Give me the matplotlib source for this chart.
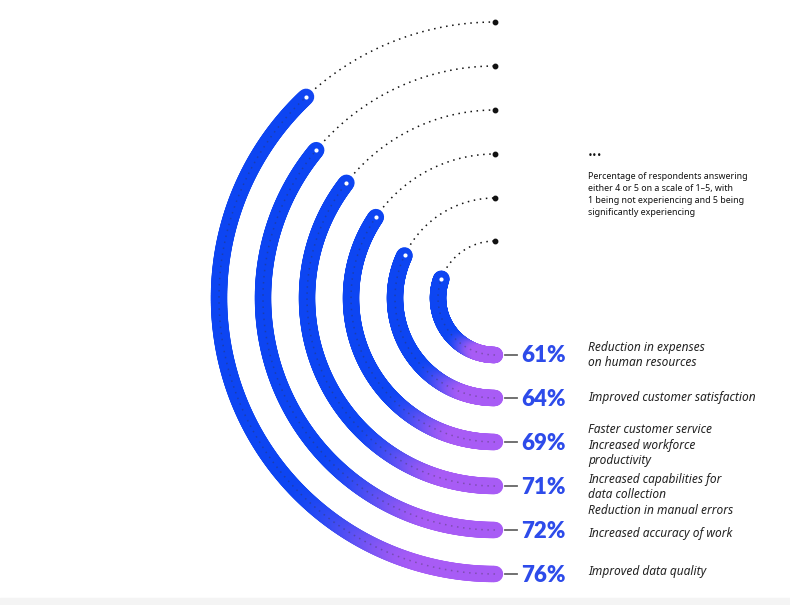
import numpy as np
import matplotlib.pyplot as plt
from matplotlib.collections import LineCollection

# datos
percentages = [61, 64, 69, 71, 72, 76]
pct_labels = ["61%", "64%", "69%", "71%", "72%", "76%"]
descriptions = [
    "Reduction in expenses\non human resources",
    "Improved customer satisfaction",
    "Faster customer service\nIncreased workforce\nproductivity",
    "Increased capabilities for\ndata collection\nReduction in manual errors",
    "Increased accuracy of work",
    "Improved data quality",
]
note = ("Percentage of respondents answering\neither 4 or 5 on a scale of 1\u20135, with\n"
        "1 being not experiencing and 5 being\nsignificantly experiencing")

# layout (pixel units)
cx, cy = 495, 298
radii = [57, 100, 144, 188, 232, 276]
desc_dy = [0, -1, 3, 9, 4, -3]

blue = np.array([0.05, 0.27, 0.95])
purple = np.array([0.66, 0.36, 0.96])

fig = plt.figure(figsize=(7.9, 6.05), dpi=100)
ax = fig.add_axes([0, 0, 1, 1])
ax.set_xlim(0, 790)
ax.set_ylim(605, 0)
ax.axis("off")

# franja gris abajo
ax.axhspan(598, 605, color="#f4f4f4", zorder=0)

for pct, r, lab, desc, dy in zip(percentages, radii, pct_labels, descriptions, desc_dy):
    end = np.radians(pct / 100 * 180)
    phi = np.linspace(0, end, 400)
    x = cx - r * np.sin(phi)
    y = cy + r * np.cos(phi)

    # gradiente horizontal azul -> morado
    t = (x - (cx - r)) / r
    s = np.clip((t - 0.25) / 0.5, 0, 1)
    s = s * s * (3 - 2 * s)
    cols = blue[None, :] * (1 - s[:, None]) + purple[None, :] * s[:, None]

    pts = np.column_stack([x, y])[::-1]
    cols = cols[::-1]
    segs = np.stack([pts[:-1], pts[1:]], axis=1)
    lc = LineCollection(segs, colors=cols[:-1], linewidths=11.8, capstyle="round", zorder=2)
    ax.add_collection(lc)

    # linea punteada hasta arriba
    phi2 = np.linspace(end, np.pi, 200)
    ax.plot(cx - r * np.sin(phi2), cy + r * np.cos(phi2), color="#111111",
            lw=1.1, linestyle=(0, (1, 3)), zorder=1)
    ax.plot(x, y, color="#333333", lw=1.1, linestyle=(0, (1, 3)), alpha=0.35, zorder=3)
    ax.plot([cx], [cy - r], "o", color="#111111", ms=3.2, zorder=4)
    ax.plot([x[-1]], [y[-1]], "o", color="white", ms=3.0, mec="none", zorder=4)

    # guion + porcentaje + texto
    ax.plot([505, 517], [cy + r, cy + r], color="#666666", lw=1.3, zorder=3)
    ax.text(521, cy + r + 1, lab, fontsize=16, fontweight="heavy", family="Lato",
            color="#2d4bea", va="center", ha="left")
    ax.text(588, cy + r + dy, desc, fontsize=8.6, style="italic", family="Noto Sans",
            color="#222222", va="center", ha="left", linespacing=1.25)

ax.text(588, 155, "\u2022\u2022\u2022", fontsize=6, color="#111111", va="center", ha="left")
ax.text(588, 172, note, fontsize=6.4, family="Noto Sans", color="#111111",
        va="top", ha="left", linespacing=1.45)

fig.savefig("out.png", dpi=100)
